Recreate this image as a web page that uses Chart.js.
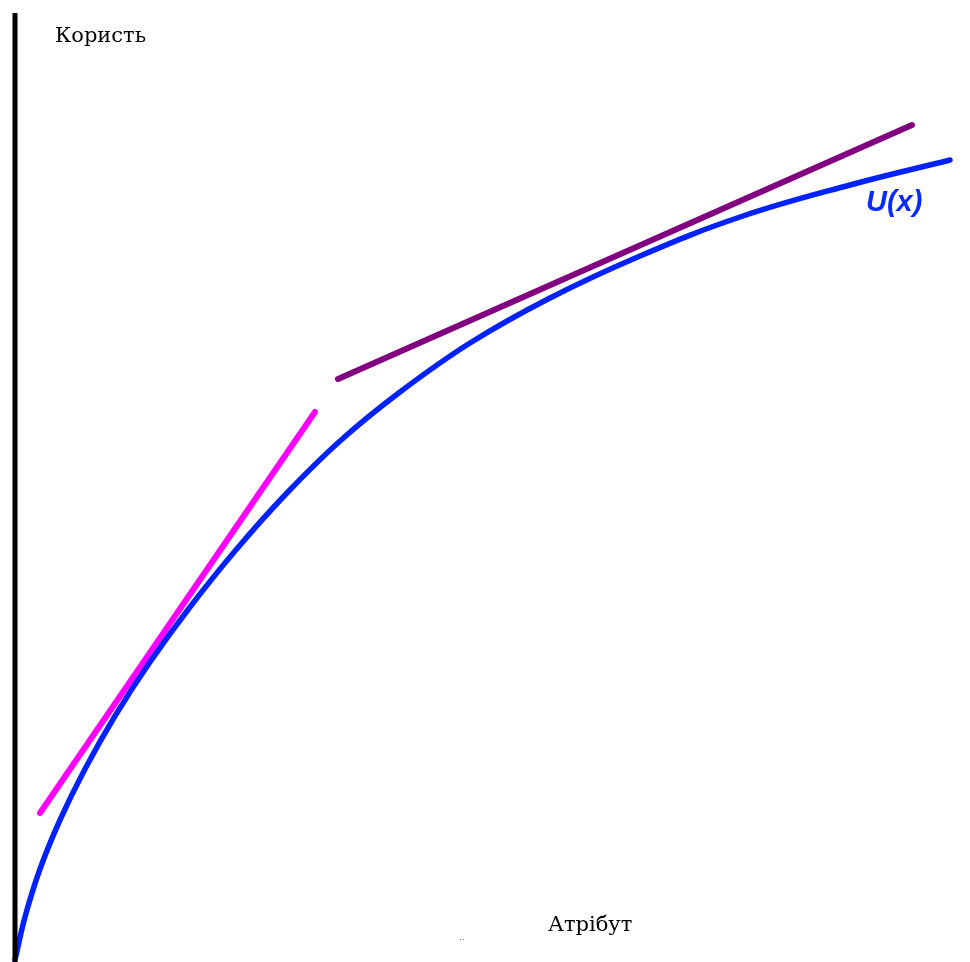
<!DOCTYPE html>
<html>
<head>
<meta charset="utf-8">
<script src="https://cdn.jsdelivr.net/npm/chart.js@4"></script>
<style>
  html, body { margin: 0; padding: 0; background: #fff; }
  #c1 { display: block; }
</style>
</head>
<body>
<canvas id="c1" width="970" height="962"></canvas>
<script>
// values: x = attribute, y = utility (0 at the bottom)
var utilX = [15, 25, 40, 60, 85, 115, 150, 190, 235, 285, 340, 400, 470, 550, 640, 740, 850, 950];
var utilY = [2, 45, 93, 142, 193, 246, 300, 355, 411, 467, 521, 570, 619, 664, 706, 745, 777, 802];

var steepX = [40, 315];
var steepY = [149, 550];

var flatX = [338, 912];
var flatY = [583, 837];

var axisX = [15, 15];
var axisY = [0, 949];

var yLabel = 'Користь';
var xLabel = 'Атрібут';
var curveLabel = 'U(x)';

function pts(xs, ys) {
    return xs.map(function (x, i) { return { x: x, y: ys[i] }; });
}

var labels = {
    id: 'labels',
    afterDraw: function (chart) {
        var ctx = chart.ctx;
        var sx = chart.scales.x, sy = chart.scales.y;
        ctx.save();
        ctx.fillStyle = '#000';
        ctx.font = '21px "DejaVu Serif"';
        ctx.textBaseline = 'alphabetic';
        ctx.fillText(yLabel, sx.getPixelForValue(55), sy.getPixelForValue(920));
        ctx.fillText(xLabel, sx.getPixelForValue(548), sy.getPixelForValue(31));
        ctx.font = '9px "DejaVu Sans"';
        ctx.fillStyle = '#555';
        ctx.fillText('..', sx.getPixelForValue(459), sy.getPixelForValue(22));
        ctx.fillStyle = '#0a2bff';
        ctx.font = 'italic bold 29px "Liberation Sans"';
        ctx.fillText(curveLabel, sx.getPixelForValue(866), sy.getPixelForValue(751));
        ctx.restore();
    }
};

var chart = new Chart(document.getElementById('c1'), {
    type: 'scatter',
    data: {
        datasets: [{
            data: pts(axisX, axisY),
            showLine: true,
            borderColor: '#000',
            borderWidth: 5,
            pointRadius: 0,
            borderCapStyle: 'butt'
        }, {
            data: pts(utilX, utilY),
            showLine: true,
            borderColor: '#0022ff',
            borderWidth: 5.5,
            pointRadius: 0,
            tension: 0.4,
            borderCapStyle: 'round'
        }, {
            data: pts(steepX, steepY),
            showLine: true,
            borderColor: '#ff00ff',
            borderWidth: 6,
            pointRadius: 0,
            borderCapStyle: 'round'
        }, {
            data: pts(flatX, flatY),
            showLine: true,
            borderColor: '#800080',
            borderWidth: 6,
            pointRadius: 0,
            borderCapStyle: 'round'
        }]
    },
    options: {
        responsive: false,
        animation: false,
        layout: { padding: 0 },
        plugins: {
            legend: { display: false },
            tooltip: { enabled: false }
        },
        scales: {
            x: { type: 'linear', min: 0, max: 970, display: false },
            y: { type: 'linear', min: 0, max: 962, display: false }
        }
    },
    plugins: [labels]
});
</script>
</body>
</html>
